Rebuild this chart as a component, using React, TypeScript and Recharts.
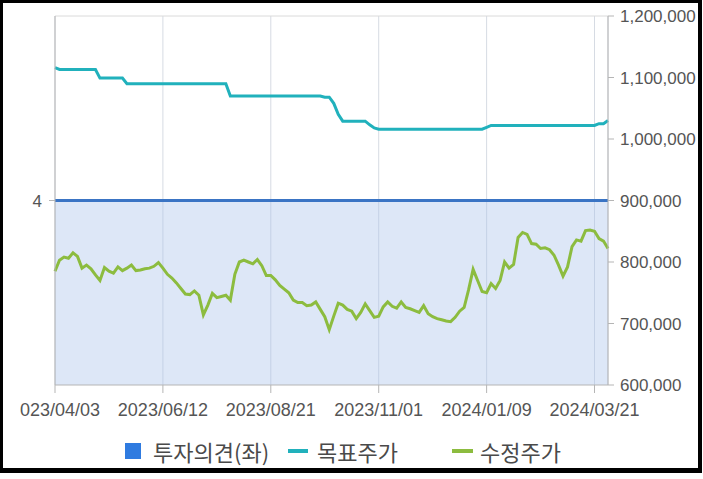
import {
  Area,
  CartesianGrid,
  ComposedChart,
  Line,
  ReferenceLine,
  XAxis,
  YAxis,
} from "recharts";

// x axis: one point every two trading days
const tickIdx = [0, 24, 48, 72, 96, 120];
const tickDates = ["2023/04/03", "2023/06/12", "2023/08/21", "2023/11/01", "2024/01/09", "2024/03/21"];

// 목표주가
const targetPrice = [
  1116000, 1113000, 1113000, 1113000, 1113000, 1113000, 1113000, 1113000, 1113000, 1113000,
  1099000, 1099000, 1099000, 1099000, 1099000, 1099000, 1090000, 1090000, 1090000, 1090000,
  1090000, 1090000, 1090000, 1090000, 1090000, 1090000, 1090000, 1090000, 1090000, 1090000,
  1090000, 1090000, 1090000, 1090000, 1090000, 1090000, 1090000, 1090000, 1090000, 1070000,
  1070000, 1070000, 1070000, 1070000, 1070000, 1070000, 1070000, 1070000, 1070000, 1070000,
  1070000, 1070000, 1070000, 1070000, 1070000, 1070000, 1070000, 1070000, 1070000, 1070000,
  1068000, 1068000, 1058000, 1040000, 1029000, 1029000, 1029000, 1029000, 1029000, 1029000,
  1023000, 1018000, 1016000, 1016000, 1016000, 1016000, 1016000, 1016000, 1016000, 1016000,
  1016000, 1016000, 1016000, 1016000, 1016000, 1016000, 1016000, 1016000, 1016000, 1016000,
  1016000, 1016000, 1016000, 1016000, 1016000, 1016000, 1019000, 1022000, 1022000, 1022000,
  1022000, 1022000, 1022000, 1022000, 1022000, 1022000, 1022000, 1022000, 1022000, 1022000,
  1022000, 1022000, 1022000, 1022000, 1022000, 1022000, 1022000, 1022000, 1022000, 1022000,
  1022000, 1025000, 1025000, 1030000,
];

// 수정주가
const adjPrice = [
  785000, 803000, 808000, 806000, 815000, 809000, 790000, 795000, 789000, 779000,
  770000, 791000, 785000, 782000, 792000, 786000, 790000, 795000, 786000, 787000,
  789000, 790000, 793000, 799000, 790000, 780000, 774000, 766000, 757000, 748000,
  747000, 753000, 746000, 714000, 730000, 749000, 742000, 744000, 746000, 738000,
  780000, 800000, 803000, 800000, 797000, 804000, 794000, 778000, 778000, 771000,
  762000, 756000, 750000, 738000, 734000, 734000, 729000, 730000, 735000, 723000,
  711000, 690000, 712000, 733000, 730000, 723000, 720000, 708000, 718000, 732000,
  721000, 710000, 712000, 727000, 735000, 728000, 725000, 735000, 726000, 724000,
  721000, 718000, 729000, 716000, 711000, 708000, 706000, 704000, 703000, 710000,
  720000, 726000, 755000, 788000, 770000, 752000, 750000, 765000, 757000, 770000,
  800000, 790000, 796000, 840000, 848000, 845000, 830000, 829000, 822000, 823000,
  820000, 811000, 795000, 777000, 792000, 825000, 836000, 834000, 851000, 852000,
  850000, 838000, 834000, 822000,
];

// 투자의견 (좌): unchanged over the period
const opinion = [
  { idx: 0, opinion: 4 },
  { idx: 123, opinion: 4 },
];

const rightTicks = [600000, 700000, 800000, 900000, 1000000, 1100000, 1200000];

const rows = adjPrice.map((v, i) => ({ idx: i, adj: v, target: targetPrice[i] }));

const AXIS = "#b5b5b5";
const TEXT = "#555";
const FONT = "'Liberation Sans', Arial, sans-serif";

function LegendItem({ left, label, children }: { left: number; label: string; children: any }) {
  return (
    <div
      style={{
        position: "absolute",
        left,
        top: 437,
        height: 28,
        display: "flex",
        alignItems: "center",
        fontFamily: "'Noto Sans CJK KR', sans-serif",
        fontSize: 22,
        color: "#4a4a4a",
        whiteSpace: "nowrap",
      }}
    >
      {children}
      {label}
    </div>
  );
}

export default function App() {
  return (
    <div style={{ position: "fixed", left: 0, top: 0, width: 703, height: 479, background: "#fff" }}>
      <div style={{ position: "absolute", left: 20, top: 0, width: 680, height: 420, overflow: "hidden" }}>
        <ComposedChart
          width={680}
          height={420}
          data={rows}
          margin={{ top: 16, right: 0, left: 0, bottom: 0 }}
          style={{ fontFamily: FONT }}
        >
          <CartesianGrid vertical horizontal={false} stroke="#d6dbe3" yAxisId="right" />
          <XAxis
            dataKey="idx"
            type="number"
            domain={[0, 123]}
            ticks={tickIdx}
            interval={0}
            tickFormatter={(v) => tickDates[tickIdx.indexOf(v)]}
            tick={{ fill: TEXT, fontSize: 18 }}
            tickSize={8}
            tickMargin={10}
            axisLine={{ stroke: AXIS }}
            tickLine={{ stroke: AXIS }}
            height={35}
          />
          <YAxis
            yAxisId="left"
            orientation="left"
            domain={[0, 8]}
            ticks={[4]}
            width={35}
            tick={{ fill: TEXT, fontSize: 17 }}
            tickSize={6}
            tickMargin={7}
            axisLine={{ stroke: AXIS }}
            tickLine={{ stroke: AXIS }}
          />
          <YAxis
            yAxisId="right"
            orientation="right"
            domain={[600000, 1200000]}
            ticks={rightTicks}
            width={92}
            tick={{ fill: TEXT, fontSize: 17 }}
            tickSize={6}
            tickMargin={6}
            axisLine={{ stroke: AXIS }}
            tickLine={{ stroke: AXIS }}
            tickFormatter={(v) => Number(v).toLocaleString("en-US")}
          />
          <ReferenceLine yAxisId="right" y={1200000} stroke="#dadada" />
          <Area
            yAxisId="left"
            data={opinion}
            dataKey="opinion"
            name="투자의견(좌)"
            type="linear"
            stroke="#3a74c4"
            strokeWidth={3}
            fill="#a9c4ea"
            fillOpacity={0.4}
            isAnimationActive={false}
          />
          <Line
            yAxisId="right"
            dataKey="target"
            name="목표주가"
            type="linear"
            stroke="#21b1bc"
            strokeWidth={3}
            dot={false}
            isAnimationActive={false}
          />
          <Line
            yAxisId="right"
            dataKey="adj"
            name="수정주가"
            type="linear"
            stroke="#8cbc3f"
            strokeWidth={3}
            dot={false}
            isAnimationActive={false}
          />
        </ComposedChart>
      </div>

      <LegendItem left={125} label="투자의견(좌)">
        <span style={{ width: 16, height: 16, background: "#2f7be0", marginRight: 12 }} />
      </LegendItem>
      <LegendItem left={288} label="목표주가">
        <span style={{ width: 20, height: 4, background: "#21b1bc", marginRight: 9 }} />
      </LegendItem>
      <LegendItem left={452} label="수정주가">
        <span style={{ width: 21, height: 4, background: "#8cbc3f", marginRight: 7 }} />
      </LegendItem>

      <div
        style={{
          position: "absolute",
          left: 0,
          top: 0,
          width: 702,
          height: 473,
          boxSizing: "border-box",
          borderStyle: "solid",
          borderColor: "#000",
          borderWidth: "3px 4px 5px 3px",
          pointerEvents: "none",
        }}
      />
    </div>
  );
}
